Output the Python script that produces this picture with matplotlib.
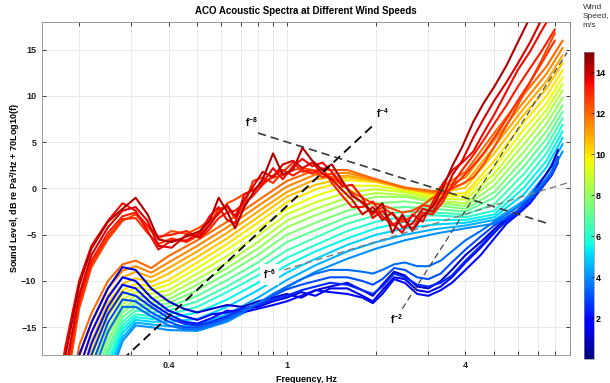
import matplotlib
matplotlib.use("Agg")
import matplotlib.pyplot as plt
from matplotlib.colors import Normalize
from matplotlib.cm import ScalarMappable

plt.rcParams["font.family"] = ["Liberation Sans", "DejaVu Sans"]
plt.rcParams["mathtext.default"] = "regular"

# ---- data ----
# smooth (well-averaged) spectra, 4 - 12 m/s
smooth_freq = [0.18, 0.2, 0.22, 0.25, 0.28, 0.31, 0.35, 0.4, 0.5, 0.63, 0.8, 1.0,
               1.25, 1.6, 2.0, 2.5, 3.15, 4.0, 5.0, 6.3, 7.5, 8.5]
smooth_speed = [4.0, 4.5, 5.0, 5.5, 6.0, 6.5, 7.0, 7.5, 8.0, 8.5, 9.0, 9.5,
                10.0, 10.5, 11.0, 11.5, 12.0]
smooth_level = [
    [-44, -34, -27, -21, -16.5, -14.8, -15.0, -15.3, -15.4, -14.4, -12.6, -10.7, -9.0, -7.6, -6.5, -5.6, -4.9, -4.3, -3.8, -2.0, 0.8, 4.0],
    [-43, -33, -26.2, -20.4, -16.1, -14.5, -14.7, -14.9, -14.8, -13.6, -11.8, -9.9, -8.3, -6.8, -5.8, -5.0, -4.4, -4.0, -3.4, -1.3, 1.6, 4.8],
    [-42, -32, -25.5, -19.8, -15.6, -14.2, -14.4, -14.4, -14.1, -12.8, -11.0, -9.1, -7.6, -6.1, -5.0, -4.3, -3.9, -3.7, -3.1, -0.6, 2.3, 5.5],
    [-41, -31, -24.8, -19.1, -15.2, -13.9, -14.1, -14.0, -13.4, -12.0, -10.2, -8.3, -6.8, -5.4, -4.3, -3.6, -3.4, -3.4, -2.8, 0.1, 3.0, 6.2],
    [-40, -30, -24, -18.5, -14.8, -13.6, -13.8, -13.6, -12.8, -11.2, -9.4, -7.5, -6.1, -4.6, -3.6, -3.0, -2.9, -3.1, -2.4, 0.8, 3.8, 6.9],
    [-39, -29, -23.1, -17.8, -14.4, -13.2, -13.4, -13.2, -12.2, -10.6, -8.7, -6.7, -5.3, -3.8, -2.9, -2.5, -2.6, -2.8, -1.7, 1.6, 4.6, 7.6],
    [-38, -28, -22.2, -17.2, -13.9, -12.8, -13.0, -12.8, -11.6, -9.9, -8.0, -5.8, -4.5, -3.1, -2.2, -2.0, -2.2, -2.5, -1.0, 2.4, 5.4, 8.3],
    [-37, -27, -21.4, -16.5, -13.4, -12.4, -12.7, -12.4, -11.0, -9.2, -7.2, -5.0, -3.7, -2.4, -1.6, -1.4, -1.8, -2.2, -0.4, 3.2, 6.2, 9.0],
    [-36, -26, -20.5, -15.8, -13.0, -12.0, -12.3, -12.0, -10.4, -8.6, -6.5, -4.2, -2.9, -1.6, -0.9, -0.9, -1.5, -1.9, 0.3, 4.0, 7.0, 9.8],
    [-35, -25, -19.8, -15.2, -12.5, -11.6, -11.9, -11.5, -9.8, -8.0, -5.8, -3.5, -2.2, -1.0, -0.5, -0.7, -1.3, -1.6, 1.0, 4.8, 7.8, 10.6],
    [-34, -24, -19.0, -14.5, -12.0, -11.2, -11.4, -11.0, -9.2, -7.3, -5.1, -2.8, -1.5, -0.4, -0.1, -0.4, -1.1, -1.2, 1.6, 5.6, 8.5, 11.3],
    [-33, -23, -18.2, -13.8, -11.5, -10.7, -11.0, -10.4, -8.6, -6.6, -4.4, -2.2, -0.8, 0.3, 0.3, -0.2, -0.9, -0.8, 2.3, 6.4, 9.2, 12.0],
    [-32, -22, -17.5, -13.2, -11.0, -10.3, -10.6, -9.9, -8.0, -6.0, -3.7, -1.5, -0.1, 0.9, 0.7, 0.0, -0.7, -0.5, 3.0, 7.2, 10.0, 12.8],
    [-30.5, -20.8, -16.5, -12.4, -10.3, -9.7, -10.1, -9.2, -7.4, -5.4, -3.1, -0.9, 0.4, 1.2, 0.8, 0.0, -0.6, 0.1, 3.8, 8.0, 10.8, 13.6],
    [-29, -19.5, -15.5, -11.6, -9.6, -9.0, -9.6, -8.6, -6.8, -4.8, -2.5, -0.4, 1.0, 1.4, 0.8, 0.0, -0.5, 0.6, 4.5, 8.7, 11.6, 14.4],
    [-27.5, -18.2, -14.5, -10.8, -8.9, -8.4, -9.1, -8.0, -6.2, -4.2, -1.9, 0.2, 1.5, 1.7, 0.9, 0.1, -0.4, 1.2, 5.2, 9.4, 12.4, 15.2],
    [-26, -17, -13.5, -10.0, -8.2, -7.8, -8.6, -7.3, -5.6, -3.6, -1.3, 0.8, 2.0, 2.0, 1.0, 0.1, -0.3, 1.8, 6.0, 10.2, 13.2, 16.0],
]

# high wind spectra (few samples, jagged)
red_freq = [0.16, 0.18, 0.2, 0.22, 0.25, 0.28, 0.31, 0.34, 0.37, 0.41, 0.46, 0.51,
            0.55, 0.59, 0.63, 0.67, 0.72, 0.77, 0.83, 0.9, 0.97, 1.05, 1.13, 1.22,
            1.32, 1.42, 1.54, 1.66, 1.8, 1.95, 2.1, 2.27, 2.45, 2.65, 2.87,
            3.1, 3.35, 3.62, 3.9, 4.25, 4.6, 5.0, 5.5, 6.0, 6.6, 7.2, 8.0]
red_speed = [12.5, 12.9, 13.2, 13.5, 13.8, 14.3]
red_level = [
    [-33, -22, -13, -8.5, -5.5, -3.5, -2.8, -4.2, -5.4, -4.6, -4.9, -4.2,
     -3.4, -2.8, -1.6, -1.2, -0.6, -0.2, 0.6, 1.2, 1.4, 2.0, 2.2, 2.0, 1.6, 1.2, 0.4, -0.4, -1.0, -1.6, -1.8, -2.2, -2.6, -2.4, -1.8,
     -1.0, -0.5, 0.0, 0.5, 1.2, 2.6, 4.5, 6.8, 9.0, 11.5, 13.8, 16.8],
    [-32, -21, -12.5, -8.2, -5.2, -3.3, -3.2, -4.8, -6.0, -5.4, -5.8, -5.0,
     -3.8, -2.2, -2.0, -3.2, -1.8, 0.8, 1.2, 0.6, 1.8, 2.8, 1.8, 2.0, 1.2, 1.6, 0.6, -0.6, -1.6, -2.8, -2.0, -2.8, -3.6, -3.0, -1.8,
     -2.0, -0.8, 0.2, 1.2, 2.5, 3.8, 5.5, 7.5, 9.5, 11.5, 13.5, 16.0],
    [-31, -20, -12, -7.8, -4.8, -3.0, -2.6, -4.0, -5.2, -5.0, -4.6, -5.4,
     -4.4, -3.2, -2.6, -2.4, -1.6, -0.8, 0.4, 1.4, 2.0, 1.4, 2.0, 1.6, 2.2, 0.6, -0.8, -2.0, -2.0, -1.4, -3.0, -4.0, -3.2, -4.4, -2.6,
     -2.8, -1.5, 0.5, 2.0, 3.6, 5.2, 7.0, 9.0, 11.0, 13.0, 14.8, 17.2],
    [-27, -17, -10, -6.2, -3.5, -1.6, -2.4, -4.6, -6.6, -5.6, -5.6, -4.8,
     -3.0, -2.0, -3.4, -3.8, -0.6, -0.2, 0.6, 2.2, 1.0, 2.4, 3.2, 2.4, 2.8, 1.8, 0.2, 0.4, -1.0, -3.2, -2.4, -3.8, -4.8, -2.8, -3.6,
     -1.5, 0.5, 2.0, 2.8, 4.0, 6.0, 8.0, 10.5, 12.8, 14.8, 17.0, 19.5],
    [-30, -19.5, -11.5, -7.2, -4.2, -2.4, -2.0, -3.5, -6.2, -6.4, -5.0, -5.2,
     -4.0, -2.6, -1.8, -3.0, -1.2, 0.2, 1.8, 1.2, 2.6, 3.0, 2.2, 2.8, 1.6, 1.0, -0.2, -1.2, -2.8, -2.0, -3.4, -2.6, -4.2, -3.8, -2.2,
     -2.5, -1.0, 1.5, 3.0, 5.5, 7.5, 9.5, 11.5, 13.5, 15.8, 18.2, 21],
    [-28, -18, -10.5, -6.5, -3.6, -2.2, -1.0, -2.8, -5.5, -5.8, -5.2, -4.6,
     -3.5, -1.0, -2.5, -4.3, -2.0, -0.5, 1.0, 3.8, 1.5, 2.0, 4.4, 3.0, 2.0, 2.6, 0.8, -0.8, -1.5, -2.6, -1.6, -4.8, -2.8, -4.6, -3.0,
     -2.0, 0.0, 2.5, 4.5, 7.2, 9.2, 11.0, 13.3, 15.8, 18.5, 21, 24],
]

# low wind spectra, 1 - 3.5 m/s
blue_freq = [0.16, 0.18, 0.2, 0.22, 0.25, 0.28, 0.31, 0.35, 0.4, 0.45, 0.5, 0.56,
             0.63, 0.71, 0.8, 0.9, 1.0, 1.12, 1.25, 1.4, 1.6, 1.8, 1.95, 2.1, 2.3,
             2.5, 2.75, 3.0, 3.3, 3.6, 4.0, 4.5, 5.0, 5.5, 6.0, 6.6, 7.2, 7.8, 8.2]
blue_speed = [1.0, 1.5, 2.0, 2.5, 3.0, 3.5]
blue_level = [
    [-34, -24, -18, -14.5, -10.8, -8.5, -8.8, -10.8, -12.2, -13.0, -13.4, -13.0, -12.6, -12.8, -12.2, -11.8, -11.4, -11.8, -11.0, -10.6,
     -10.2, -11.0, -11.6, -10.4, -9.0, -9.4, -10.6, -10.8, -10.0, -8.8, -7.2, -5.8, -4.4, -3.2, -2.4, -1.0, 0.8, 2.4, 4.2],
    [-36, -26, -19.5, -15.6, -11.8, -9.6, -10.0, -11.8, -13.2, -13.8, -14.2, -13.6, -13.4, -13.0, -12.8, -12.2, -11.8, -11.2, -11.6, -10.8,
     -10.8, -11.6, -12.2, -11.0, -9.6, -9.8, -11.0, -11.2, -10.6, -9.6, -8.0, -6.4, -4.8, -3.4, -2.6, -1.4, 0.2, 1.8, 3.4],
    [-38, -28, -21, -16.8, -12.8, -10.4, -10.8, -12.4, -13.6, -14.4, -14.6, -14.0, -13.2, -13.4, -13.0, -12.6, -12.2, -11.6, -11.0, -11.2,
     -11.4, -11.8, -12.4, -11.4, -9.8, -10.2, -11.4, -11.6, -11.0, -10.2, -8.8, -7.2, -5.4, -3.8, -2.8, -1.6, 0.0, 1.6, 3.2],
    [-40, -30, -22.5, -18, -13.6, -11.2, -11.6, -12.8, -14.0, -14.6, -14.8, -14.4, -13.8, -13.0, -12.6, -12.0, -11.6, -11.0, -10.6, -10.2,
     -10.4, -11.0, -11.4, -10.6, -9.2, -9.6, -10.4, -10.6, -10.2, -9.4, -7.8, -6.2, -4.6, -3.6, -2.6, -1.4, 0.0, 1.4, 2.8],
    [-42, -32, -24, -19.2, -14.5, -12.0, -12.2, -13.4, -14.4, -15.0, -15.0, -14.6, -14.0, -13.2, -12.4, -11.6, -10.9, -10.4, -10.0, -9.6,
     -9.6, -10.0, -10.4, -9.8, -8.6, -8.8, -9.6, -9.8, -9.2, -8.0, -6.6, -5.2, -4.0, -3.2, -2.4, -1.2, 0.2, 1.6, 3.0],
    [-44, -34, -26, -20.5, -15.5, -12.8, -12.8, -13.8, -14.8, -15.2, -15.2, -14.8, -14.2, -13.4, -12.4, -11.4, -10.6, -9.8, -9.2, -8.8,
     -8.8, -9.0, -9.2, -8.8, -8.2, -8.0, -8.4, -8.4, -7.8, -6.8, -5.6, -4.6, -3.6, -2.8, -2.0, -0.9, 0.4, 1.8, 3.2],
]

# reference slope lines (end points) and their labels
slope_f4 = ([0.28, 1.98], [-18.5, 7.0])
slope_f8 = ([0.80, 7.6], [6.0, -3.8])
slope_f6 = ([0.98, 8.8], [-8.8, 0.6])
slope_f2 = ([2.45, 8.8], [-13.0, 14.7])

x_ticks = [0.2, 0.3, 0.4, 0.5, 0.6, 0.7, 0.8, 0.9, 1, 2, 3, 4, 5, 6, 7, 8, 9]
x_labels = {0.4: "0.4", 1: "1", 4: "4"}
y_ticks = [-15, -10, -5, 0, 5, 10, 15]
cbar_ticks = [2, 4, 6, 8, 10, 12, 14]

# ---- figure ----
fig = plt.figure(figsize=(6.10, 3.83), dpi=100)
ax = fig.add_axes([0.0689, 0.0731, 0.8656, 0.8695])
cax = fig.add_axes([0.9574, 0.0627, 0.0164, 0.8016])

cmap = plt.get_cmap("jet")
norm = Normalize(vmin=0, vmax=15)

# blue drawn over the smooth family, red on top of everything
for s, lv in zip(smooth_speed, smooth_level):
    ax.plot(smooth_freq, lv, color=cmap(norm(s)), lw=1.5, solid_joinstyle="round",
            solid_capstyle="round", zorder=2)
for s, lv in zip(blue_speed, blue_level):
    ax.plot(blue_freq, lv, color=cmap(norm(s)), lw=1.5, solid_joinstyle="round",
            solid_capstyle="round", zorder=2.2)
for s, lv in zip(red_speed, red_level):
    ax.plot(red_freq, lv, color=cmap(norm(s)), lw=1.5, solid_joinstyle="round",
            solid_capstyle="round", zorder=2.4)

dash = (0, (5, 3))
ax.plot(*slope_f4, color="black", lw=1.3, ls=dash, zorder=3)
ax.plot(*slope_f8, color="#3a3a3a", lw=1.2, ls=dash, zorder=3)
ax.plot(*slope_f6, color="#808080", lw=1.0, ls=dash, zorder=3)
ax.plot(*slope_f2, color="#4a4a4a", lw=0.9, ls=dash, zorder=3)

lab = dict(fontsize=7, fontweight="bold", ha="center", va="center", zorder=4)
ax.text(0.762, 7.2, "f$^{-8}$", **lab)
ax.text(2.1, 8.1, "f$^{-4}$", **lab)
ax.text(0.875, -9.3, "f$^{-6}$",
        bbox=dict(facecolor="white", edgecolor="none", pad=2.5), **lab)
ax.text(2.35, -14.1, "f$^{-2}$", **lab)

ax.set_xscale("log")
ax.set_xlim(0.15, 9)
ax.set_ylim(-18, 18)
ax.set_xticks(x_ticks)
ax.set_xticklabels([x_labels.get(t, "") for t in x_ticks])
ax.xaxis.set_minor_locator(plt.NullLocator())
ax.set_yticks(y_ticks)
ax.grid(True, color="#e6e6e6", lw=0.6, zorder=0)
ax.set_axisbelow(True)
ax.tick_params(direction="in", top=True, right=True, length=3, width=0.6,
               labelsize=6.5, colors="#222222", pad=4)
for t in ax.get_xticklabels() + ax.get_yticklabels():
    t.set_fontweight("bold")
for sp in ax.spines.values():
    sp.set_color("#8a8a8a")
    sp.set_linewidth(0.6)

ax.set_xlabel("Frequency, Hz", fontsize=6.5, fontweight="bold", labelpad=4)
ax.set_ylabel("Sound Level, dB re Pa$^2$/Hz + 70Log10(f)", fontsize=6.5,
              fontweight="bold", labelpad=-1)
ax.set_title("ACO Acoustic Spectra at Different Wind Speeds", fontsize=7,
             fontweight="bold", pad=6)

cb = fig.colorbar(ScalarMappable(norm=norm, cmap=cmap), cax=cax, ticks=cbar_ticks)
cb.outline.set_linewidth(0.5)
cb.outline.set_edgecolor("#8a8a8a")
cax.tick_params(direction="in", length=2.5, width=0.5, labelsize=6.5, pad=1)
for t in cax.get_yticklabels():
    t.set_fontweight("bold")
fig.text(0.955, 0.99, "Wind\nSpeed,\nm/s", fontsize=6, ha="left", va="top",
         linespacing=1.45, color="#333333")

fig.savefig("out.png", dpi=100)
